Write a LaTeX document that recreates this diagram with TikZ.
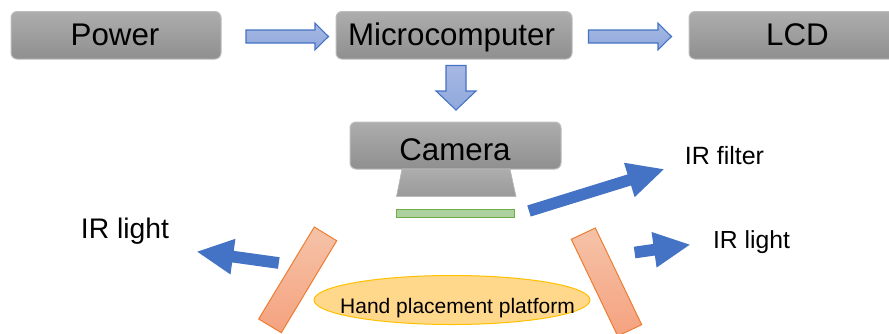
\documentclass[tikz,border=0pt]{standalone}
\usepackage{fontspec}
\setmainfont{Liberation Sans}
\usetikzlibrary{calc,shapes.geometric}
\definecolor{blockline}{HTML}{4472C4}
\tikzset{
  unit box/.style={draw=boxline,line width=1pt,rounded corners=6pt,top color=boxtop,bottom color=boxbot,inner sep=0pt,outer sep=0pt,text=black},
  hollow arrow/.style={draw=blockline,line width=1.1pt,top color=arrtop,bottom color=arrbot,line join=miter},
  solid arrow/.style={fill=blockline,draw=none},
  lamp/.style={draw=lampline,line width=1pt,top color=lamptop,bottom color=lampbot},
  word/.style={anchor=base,inner sep=0pt,text=black}
}
\definecolor{boxline}{HTML}{BDBDBD}
\definecolor{boxtop}{HTML}{ADADAD}
\definecolor{boxbot}{HTML}{8F8F8F}
\definecolor{arrtop}{HTML}{A6B8E2}
\definecolor{arrbot}{HTML}{8FA8DC}
\definecolor{lampline}{HTML}{ED7D31}
\definecolor{lamptop}{HTML}{F5C3A8}
\definecolor{lampbot}{HTML}{F5A27F}
\definecolor{plateline}{HTML}{FFC000}
\definecolor{platefill}{HTML}{FFD88C}
\definecolor{filterline}{HTML}{70AD47}
\definecolor{filterfill}{HTML}{ADD19E}
% style, tail, tip, shaft width, head width, head length (all pt)
\newcommand{\blockarrow}[6]{%
  \coordinate (ba) at ($(#3)!#6pt!(#2)$);
  \path[#1] ($(#2)!#4pt/2!90:(#3)$) -- ($(ba)!#4pt/2!-90:(#2)$) -- ($(ba)!#5pt/2!-90:(#2)$) -- (#3)
     -- ($(ba)!#5pt/2!90:(#2)$) -- ($(ba)!#4pt/2!90:(#2)$) -- ($(#2)!#4pt/2!-90:(#3)$) -- cycle;
}
\begin{document}
\begin{tikzpicture}[x=1pt,y=-1pt]
\useasboundingbox (0,0) rectangle (889,333);
\clip (0,0) rectangle (889,333);
% boxes
\node[unit box,minimum width=210pt,minimum height=47.5pt] (power) at (116,35.3) {};
\node[unit box,minimum width=236pt,minimum height=47.5pt] (micro) at (454,35.3) {};
\node[unit box,minimum width=230pt,minimum height=47.5pt] (lcd) at (804,35.3) {};
\node[unit box,minimum width=211pt,minimum height=47pt] (camera) at (455.5,145.5) {};
\node[word,font=\fontsize{31.3}{34}\selectfont] (tpower) at (115,45) {Power};
\node[word,font=\fontsize{31.3}{34}\selectfont] (tmicro) at (451.5,45) {Microcomputer};
\node[word,font=\fontsize{31.3}{34}\selectfont] (tlcd) at (797.5,45) {LCD};
\node[word,font=\fontsize{31.3}{34}\selectfont] (tcam) at (455,160) {Camera};
% lens and filter
\path[fill=boxtop,top color=boxtop,bottom color=boxbot!90!white,draw=boxline,line width=.6pt] (camera.south) +(-53.5,0) coordinate (lt) -- (camera.south -| 510,0) -- (516,196.5) -- (396.5,196.5) -- cycle;
\node[draw=filterline,fill=filterfill,line width=1pt,minimum width=118.5pt,minimum height=8pt,inner sep=0pt,outer sep=0pt] (filter) at (455.5,213) {};
% block arrows
\coordinate (a1t) at (246,36.5); \coordinate (a1h) at (328.5,36.5);
\coordinate (a2t) at (588.5,36.5); \coordinate (a2h) at (671.5,36.5);
\coordinate (a3t) at (456,65.5); \coordinate (a3h) at (456,110);
\blockarrow{hollow arrow}{a1t}{a1h}{13}{26.5}{13.5}
\blockarrow{hollow arrow}{a2t}{a2h}{13}{26.5}{13.5}
\blockarrow{hollow arrow}{a3t}{a3h}{20}{40}{19}
% lamps
\path[lamp] (314.3,227) coordinate (ll) -- (336.7,240.7) -- (281.3,332.7) -- (258.7,319) -- cycle;
\path[lamp] (571.3,239.3) coordinate (lr) -- (595.3,228) -- (641.7,324.7) -- (617.7,336) -- cycle;
% platform
\node[ellipse,draw=plateline,fill=platefill,line width=1pt,minimum width=276pt,minimum height=49pt,inner sep=0pt,outer sep=0pt] (plate) at (452,300) {};
\node[word,font=\fontsize{21}{24}\selectfont] (tplate) at (457.5,313.5) {Hand placement platform};
% pointer arrows
\coordinate (f1) at (529,211); \coordinate (f2) at (663.7,169.3);
\coordinate (r1) at (634.6,252.5); \coordinate (r2) at (689.7,244.7);
\coordinate (l1) at (278.8,263); \coordinate (l2) at (197.3,251.7);
\blockarrow{solid arrow}{f1}{f2}{11.6}{36}{36}
\blockarrow{solid arrow}{r1}{r2}{11.7}{36}{36}
\blockarrow{solid arrow}{l1}{l2}{11.7}{36}{36}
% labels
\node[word,font=\fontsize{25}{28}\selectfont] (tfilter) at (724.5,164.8) {IR filter};
\node[word,font=\fontsize{24.7}{28}\selectfont] (tlr) at (751.5,248.8) {IR light};
\node[word,font=\fontsize{28.3}{30}\selectfont] (tll) at (125,238) {IR light};
\end{tikzpicture}
\end{document}
